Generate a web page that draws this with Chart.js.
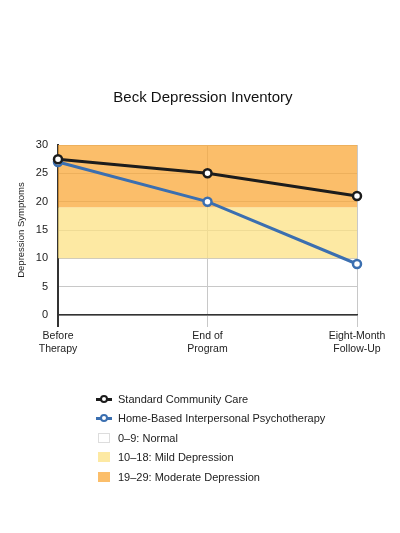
<!DOCTYPE html>
<html>
<head>
<meta charset="utf-8">
<script src="https://cdn.jsdelivr.net/npm/chart.js@4"></script>
<style>
  html, body { margin: 0; padding: 0; background: #fff; }
  #wrap { position: relative; width: 400px; height: 533px; font-family: 'Liberation Sans', Arial, sans-serif; }
  #chart { position: absolute; left: 0; top: 0; }
  #title { position: absolute; left: 0; width: 406px; top: 88px; text-align: center; font-size: 15px; color: #111; }
  #legend { position: absolute; left: 96px; top: 389px; font-size: 11px; color: #222; }
  .row { height: 19.5px; display: flex; align-items: center; }
  .mk { width: 16px; height: 10px; margin-right: 6px; position: relative; box-sizing: border-box; }
  .ln::before { content: ''; position: absolute; left: 0; right: 0; top: 4px; height: 3px; background: currentColor; }
  .ln::after { content: ''; position: absolute; left: 4px; top: 1px; width: 8px; height: 8px; box-sizing: border-box; border-radius: 50%; background: #fff; border: 2px solid currentColor; }
  .box { width: 12px; height: 10px; margin-left: 2px; margin-right: 8px; border: 1px solid #ddd; box-sizing: border-box; }
</style>
</head>
<body>
<div id="wrap">
  <canvas id="chart" width="400" height="533"></canvas>
  <div id="title">Beck Depression Inventory</div>
  <div id="legend"></div>
</div>
<script>
Chart.defaults.font.family = "'Liberation Sans', Arial, sans-serif";
Chart.defaults.color = '#222';

const STAGES = [['Before', 'Therapy'], ['End of', 'Program'], ['Eight-Month', 'Follow-Up']];
const STANDARD = [27.5, 25, 21];
const HOME_IPT = [27, 20, 9];
const Y_TICKS = [0, 5, 10, 15, 20, 25, 30];
// band edges: top of moderate, moderate/mild border, mild/normal border
const MODERATE_TOP = [30, 30, 30];
const MILD_TOP = [19, 19, 19];
const NORMAL_TOP = [10, 10, 10];

const BLACK = '#1c1c1c';
const BLUE = '#3b6fb0';
const ORANGE = '#fbbe6a';
const YELLOW = '#fde9a3';
// see-through versions so the grid shows through the bands
const ORANGE_A = 'rgba(250,168,56,0.75)';
const YELLOW_A = 'rgba(252,226,132,0.75)';

const band = (label, data, color, fill) => ({
    label, data, fill, backgroundColor: color, borderWidth: 0, pointRadius: 0, order: 10
});

new Chart(document.getElementById('chart'), {
    type: 'line',
    data: {
        labels: STAGES,
        datasets: [
            { label: 'Standard Community Care', data: STANDARD, borderColor: BLACK, borderWidth: 3,
              pointRadius: 4, pointBorderWidth: 2.5, pointBackgroundColor: '#fff', pointBorderColor: BLACK, order: 1 },
            { label: 'Home-Based Interpersonal Psychotherapy', data: HOME_IPT, borderColor: BLUE, borderWidth: 3,
              pointRadius: 4, pointBorderWidth: 2.5, pointBackgroundColor: '#fff', pointBorderColor: BLUE, order: 2 },
            band('19–29: Moderate Depression', MODERATE_TOP, ORANGE_A, '+1'),
            band('10–18: Mild Depression', MILD_TOP, YELLOW_A, '+1'),
            band('0–9: Normal', NORMAL_TOP, 'rgba(0,0,0,0)', false)
        ]
    },
    options: {
        responsive: false,
        animation: false,
        layout: { padding: { left: 12, right: 43, top: 145, bottom: 168 } },
        plugins: {
            legend: { display: false },
            tooltip: { enabled: false }
        },
        scales: {
            x: {
                offset: false,
                grid: { color: ctx => ctx.index === 0 ? '#333' : '#c8c8c8', tickLength: 12, lineWidth: ctx => ctx.index === 0 ? 2 : 1 },
                border: { color: '#333', width: 1.5 },
                ticks: { font: { size: 10.5 }, padding: 3, maxRotation: 0, color: '#222' },
                afterFit: s => { s.height = 50; }
            },
            y: {
                min: 0, max: 30,
                afterBuildTicks: s => { s.ticks = Y_TICKS.map(v => ({ value: v })); },
                grid: { drawTicks: false, color: '#c8c8c8' },
                border: { color: '#333', width: 2 },
                ticks: { font: { size: 11 }, padding: 10, color: '#222' },
                title: { display: true, text: 'Depression Symptoms', font: { size: 9.5 }, color: '#222', padding: 4 },
                afterFit: s => { s.width = 46; }
            }
        }
    }
});

const LEGEND = [
    ['ln', BLACK, 'Standard Community Care'],
    ['ln', BLUE, 'Home-Based Interpersonal Psychotherapy'],
    ['box', '#fff', '0–9: Normal'],
    ['box', YELLOW, '10–18: Mild Depression'],
    ['box', ORANGE, '19–29: Moderate Depression']
];
const leg = document.getElementById('legend');
LEGEND.forEach(([kind, color, text]) => {
    const row = document.createElement('div');
    row.className = 'row';
    const mk = document.createElement('span');
    if (kind === 'ln') {
        mk.className = 'mk ln';
        mk.style.color = color;
    } else {
        mk.className = 'box';
        mk.style.background = color;
        if (color !== '#fff') mk.style.borderColor = color;
    }
    row.appendChild(mk);
    const t = document.createElement('span');
    t.textContent = text;
    row.appendChild(t);
    leg.appendChild(row);
});
</script>
</body>
</html>
